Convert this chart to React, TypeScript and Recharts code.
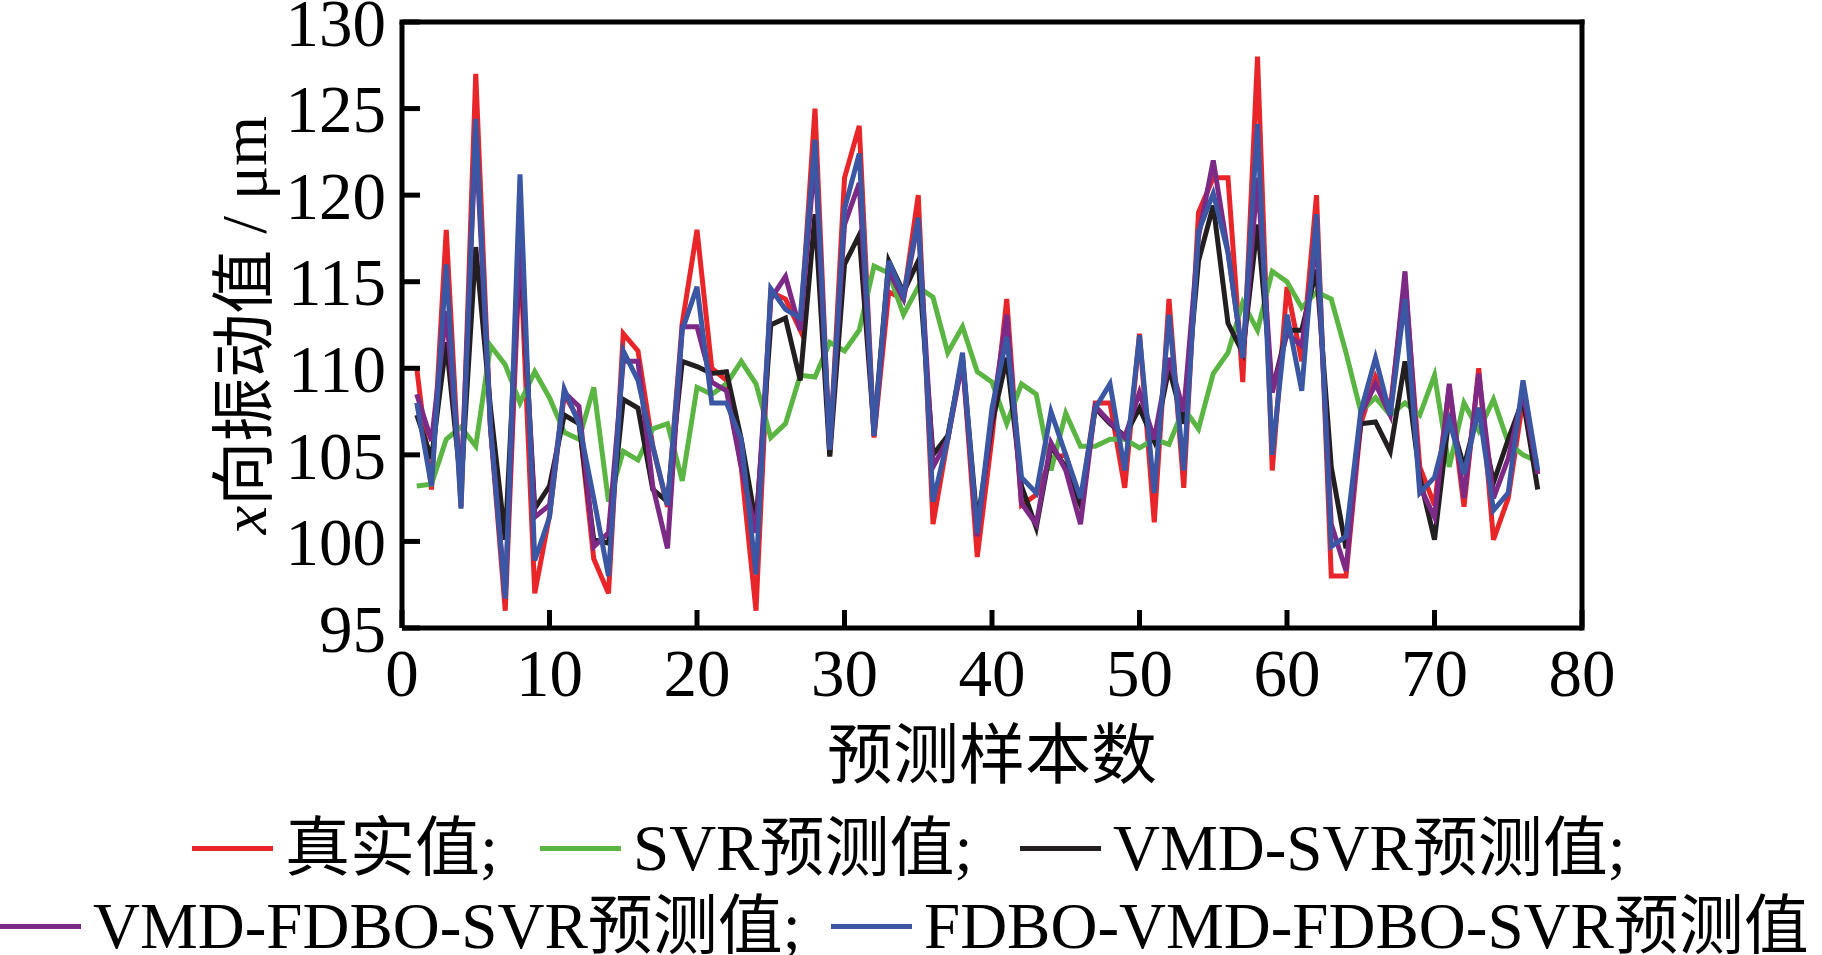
import React from "react";
import { LineChart, Line, XAxis, YAxis, ReferenceLine } from "recharts";

const samples = Array.from({ length: 77 }, (_, i) => i + 1);

const realValues = [
  110.0, 103.0, 118.0, 102.0, 127.0, 106.5, 96.0, 117.0, 97.0, 101.5,
  108.5, 107.0, 99.0, 97.0, 112.0, 111.0, 105.5, 102.0, 112.6, 118.0,
  110.0, 109.3, 104.3, 96.0, 114.4, 114.0, 112.2, 125.0, 105.0, 121.0,
  124.0, 106.0, 114.4, 114.0, 120.0, 101.0, 105.9, 110.6, 99.1, 106.0,
  114.0, 102.1, 102.7, 104.8, 105.0, 102.1, 108.0, 108.0, 103.1, 112.0,
  101.1, 114.0, 103.1, 119.0, 121.0, 121.0, 109.2, 128.0, 104.1, 114.7,
  110.4, 120.0, 98.0, 98.0, 106.8, 109.5, 107.7, 115.0, 104.3, 102.1,
  108.9, 102.0, 110.0, 100.1, 102.5, 108.2, 103.9,
];

const svrValues = [
  103.2, 103.3, 105.9, 106.6, 105.5, 111.3, 110.2, 108.0, 109.8, 108.3,
  106.3, 105.9, 108.9, 102.3, 105.2, 104.7, 106.5, 106.8, 103.5, 108.9,
  108.5, 109.1, 110.4, 109.1, 106.0, 106.8, 109.6, 109.5, 111.5, 111.0,
  112.2, 115.9, 115.5, 113.1, 114.7, 114.1, 110.9, 112.4, 109.8, 109.2,
  106.8, 109.1, 108.5, 104.1, 107.4, 105.5, 105.5, 105.9, 105.9, 105.4,
  105.9, 105.6, 107.7, 106.5, 109.7, 110.9, 113.8, 112.2, 115.6, 115.0,
  113.5, 114.4, 114.0, 110.9, 107.5, 108.3, 107.3, 108.0, 107.3, 109.6,
  104.3, 108.0, 106.4, 108.2, 105.7, 105.0, 104.6,
];

const vmdSvrValues = [
  107.3, 104.8, 111.5, 103.2, 117.0, 107.7, 100.1, 117.1, 101.9, 103.2,
  107.3, 106.8, 100.1, 99.9, 108.2, 107.7, 103.0, 102.3, 110.4, 110.1,
  109.7, 109.8, 105.9, 101.0, 112.5, 112.9, 109.3, 118.9, 104.9, 116.0,
  117.7, 106.4, 116.2, 114.4, 116.2, 105.0, 106.1, 110.6, 101.0, 106.8,
  110.6, 103.2, 100.8, 105.5, 104.3, 102.1, 107.7, 106.8, 106.1, 107.7,
  105.8, 110.0, 106.8, 116.2, 119.4, 112.6, 110.9, 118.3, 108.7, 112.2,
  112.2, 115.7, 104.3, 99.6, 106.8, 106.9, 105.2, 110.4, 103.7, 100.1,
  107.3, 104.3, 107.7, 103.4, 105.9, 108.2, 103.0,
];

const vmdFdboValues = [
  108.5, 105.8, 113.3, 103.2, 123.4, 106.6, 96.9, 117.8, 101.4, 102.1,
  108.6, 107.8, 99.7, 100.5, 110.4, 110.4, 103.2, 99.6, 112.4, 112.4,
  109.2, 108.7, 104.3, 100.5, 114.0, 115.3, 112.2, 122.3, 105.3, 118.3,
  120.7, 106.1, 115.6, 114.0, 118.5, 104.3, 105.9, 110.4, 100.3, 107.3,
  113.1, 102.2, 101.0, 105.7, 104.1, 101.0, 107.8, 106.9, 106.0, 108.6,
  105.9, 110.6, 107.5, 117.6, 122.0, 116.7, 110.6, 121.0, 108.6, 112.0,
  111.3, 117.4, 101.0, 98.3, 107.3, 109.1, 107.3, 115.6, 103.2, 101.4,
  109.1, 102.5, 109.7, 102.5, 104.8, 108.6, 103.9,
];

const fdboVmdValues = [
  108.0, 103.2, 116.0, 101.9, 124.4, 106.6, 96.7, 121.2, 98.9, 101.4,
  108.8, 106.8, 102.5, 98.0, 111.0, 109.3, 105.5, 102.1, 112.2, 114.7,
  108.0, 108.0, 105.9, 98.1, 114.6, 113.4, 112.9, 123.2, 105.3, 119.2,
  122.4, 106.1, 116.2, 114.2, 118.7, 102.3, 105.9, 110.9, 100.5, 107.7,
  111.8, 103.7, 102.8, 107.5, 105.0, 102.5, 107.7, 109.1, 104.1, 111.9,
  102.8, 113.1, 104.1, 117.9, 120.1, 116.7, 110.6, 124.1, 105.0, 113.1,
  108.7, 118.9, 99.7, 100.3, 107.5, 110.6, 107.3, 114.0, 102.8, 103.7,
  107.0, 103.9, 107.7, 101.8, 102.8, 109.3, 104.1,
];

const xTicks = [0, 10, 20, 30, 40, 50, 60, 70, 80];
const yTicks = [95, 100, 105, 110, 115, 120, 125, 130];

const rows = samples.map((n, i) => ({
  n,
  real: realValues[i],
  svr: svrValues[i],
  vmdSvr: vmdSvrValues[i],
  vmdFdbo: vmdFdboValues[i],
  fdboVmd: fdboVmdValues[i],
}));

const FONT = "'Liberation Serif', 'Times New Roman', 'Noto Sans CJK SC', serif";

const series = [
  { key: "real", color: "#e8262a", name: "真实值;" },
  { key: "svr", color: "#5bb543", name: "SVR预测值;" },
  { key: "vmdSvr", color: "#231f20", name: "VMD-SVR预测值;" },
  { key: "vmdFdbo", color: "#7d2a87", name: "VMD-FDBO-SVR预测值;" },
  { key: "fdboVmd", color: "#3b56a2", name: "FDBO-VMD-FDBO-SVR预测值" },
];

// legend entry start points, page coords
const legendSpots = [
  { left: 192, top: 848 },
  { left: 540, top: 848 },
  { left: 1020, top: 848 },
  { left: 0, top: 926 },
  { left: 831, top: 926 },
];

const XTitle = (props: any) => {
  const vb = props.viewBox || {};
  return (
    <text
      x={vb.x + vb.width / 2}
      y={755}
      textAnchor="middle"
      dominantBaseline="central"
      fontSize={66}
      fontFamily={FONT}
      fill="#000"
    >
      预测样本数
    </text>
  );
};

const YTitle = () => (
  <text
    x={244}
    y={325}
    transform="rotate(-90 244 325)"
    textAnchor="middle"
    dominantBaseline="central"
    fontSize={64}
    fontFamily={FONT}
    fill="#000"
  >
    <tspan fontStyle="italic">x</tspan>向振动值 / μm
  </text>
);

export default function App() {
  return (
    <div
      style={{
        position: "absolute",
        left: 0,
        top: 0,
        width: 1822,
        height: 955,
        overflow: "hidden",
        background: "#fff",
        fontFamily: FONT,
      }}
    >
      <LineChart
        width={1822}
        height={955}
        data={rows}
        margin={{ top: 22, right: 240, bottom: 0, left: 0 }}
        style={{ overflow: "visible" }}
      >
        <XAxis
          dataKey="n"
          type="number"
          domain={[0, 80]}
          ticks={xTicks}
          interval={0}
          height={327}
          tickSize={-18}
          tickMargin={38}
          axisLine={{ stroke: "#000", strokeWidth: 5 }}
          tickLine={{ stroke: "#000", strokeWidth: 5 }}
          tick={{ fontSize: 67, fill: "#000", fontFamily: FONT }}
          label={<XTitle />}
        />
        <YAxis
          type="number"
          domain={[95, 130]}
          ticks={yTicks}
          interval={0}
          width={402}
          tickSize={-18}
          tickMargin={34}
          axisLine={{ stroke: "#000", strokeWidth: 5 }}
          tickLine={{ stroke: "#000", strokeWidth: 5 }}
          tick={{ fontSize: 67, fill: "#000", fontFamily: FONT }}
          label={<YTitle />}
        />
        <ReferenceLine y={130} stroke="#000" strokeWidth={5} strokeLinecap="square" />
        <ReferenceLine x={80} stroke="#000" strokeWidth={5} strokeLinecap="square" />
        {series.map((s) => (
          <Line
            key={s.key}
            dataKey={s.key}
            type="linear"
            stroke={s.color}
            strokeWidth={5}
            strokeLinejoin="miter"
            dot={false}
            activeDot={false}
            isAnimationActive={false}
          />
        ))}
      </LineChart>
      {series.map((s, i) => (
        <div
          key={s.key}
          style={{
            position: "absolute",
            left: legendSpots[i].left,
            top: legendSpots[i].top - 40,
            height: 80,
            display: "flex",
            alignItems: "center",
            whiteSpace: "nowrap",
            fontSize: 65,
            lineHeight: 1,
            color: "#000",
          }}
        >
          <span style={{ display: "inline-block", width: 81, height: 5, background: s.color, marginRight: 12 }} />
          <span>{s.name}</span>
        </div>
      ))}
    </div>
  );
}
